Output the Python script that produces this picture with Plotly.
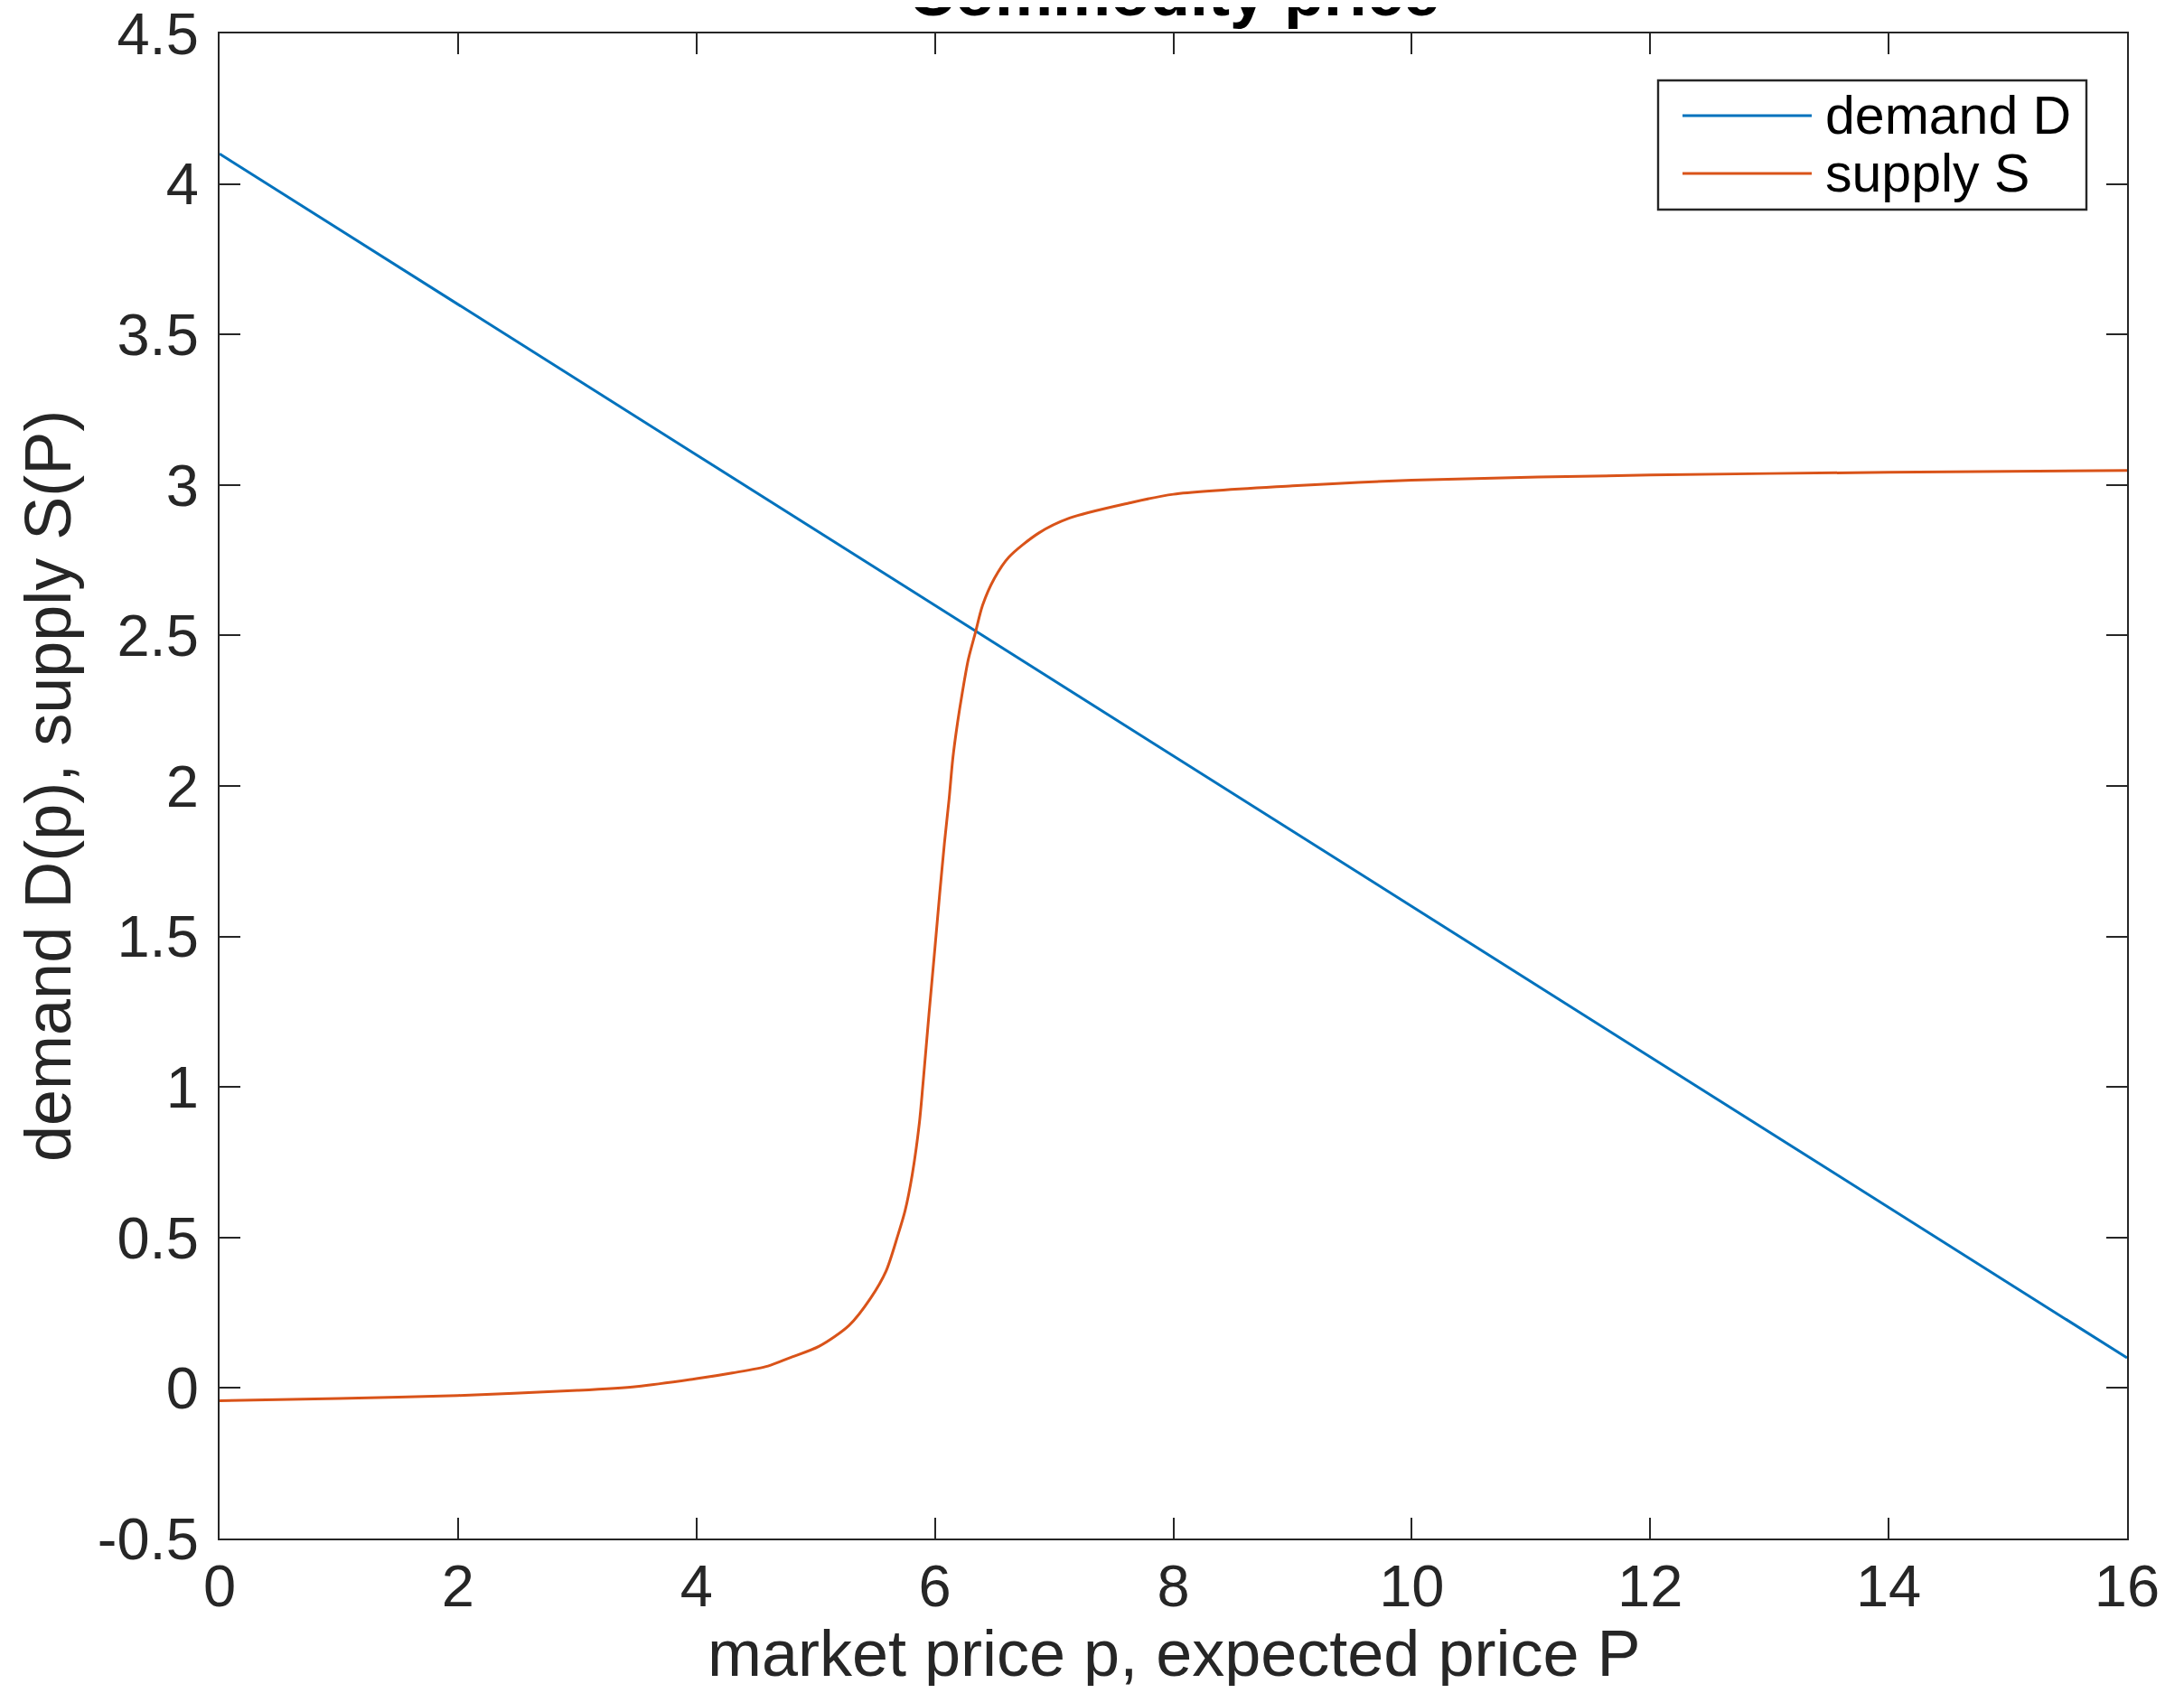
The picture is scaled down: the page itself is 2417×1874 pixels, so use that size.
import plotly.graph_objects as go

# ---------------- data ----------------
demand_p = [0, 16]
demand_D = [4.1, 0.1]

supply_P = [0, 1, 2, 3, 3.5, 4, 4.3, 4.6, 4.78, 5.03, 5.28, 5.46, 5.59, 5.69, 5.75,
            5.81, 5.87, 5.90, 5.95, 6.00, 6.04, 6.08, 6.12, 6.15, 6.19, 6.23, 6.28,
            6.34, 6.40, 6.50, 6.62, 6.87, 7.13, 7.63, 8, 9, 10, 12, 14, 16]
supply_S = [-0.042, -0.035, -0.025, -0.008, 0.005, 0.031, 0.05, 0.073, 0.10, 0.139, 0.208,
            0.298, 0.388, 0.508, 0.589, 0.709, 0.881, 1.01, 1.24, 1.46, 1.64, 1.81, 1.96,
            2.09, 2.21, 2.31, 2.42, 2.51, 2.60, 2.69, 2.76, 2.84, 2.89, 2.94, 2.969,
            2.997, 3.016, 3.033, 3.042, 3.048]

x_ticks = [0, 2, 4, 6, 8, 10, 12, 14, 16]
x_ticklabels = ["0", "2", "4", "6", "8", "10", "12", "14", "16"]
y_ticks = [-0.5, 0, 0.5, 1, 1.5, 2, 2.5, 3, 3.5, 4, 4.5]
y_ticklabels = ["-0.5", "0", "0.5", "1", "1.5", "2", "2.5", "3", "3.5", "4", "4.5"]

series_names = ["demand D", "supply S"]
series_colors = ["#0072BD", "#D95319"]

# ---------------- layout geometry (page pixels) ----------------
PAGE_OFF = 8          # default body margin of the html page
W, H = 2417 - 2 * PAGE_OFF, 1874 - 2 * PAGE_OFF
PL, PR, PT, PB = 243, 2354, 37, 1703   # plot area in page pixels

def px(xpage):
    return (xpage - PL) / (PR - PL)

def py(ypage):
    return (PB - ypage) / (PB - PT)

FONT = "Liberation Sans, Arial, Helvetica, sans-serif"
AX = "#262626"

fig = go.Figure()
fig.add_trace(go.Scatter(x=demand_p, y=demand_D, mode="lines", name=series_names[0],
                         line=dict(color=series_colors[0], width=3), showlegend=False))
fig.add_trace(go.Scatter(x=supply_P, y=supply_S, mode="lines", name=series_names[1],
                         line=dict(color=series_colors[1], width=3, shape="spline",
                                   smoothing=0.8),
                         showlegend=False))

axis_common = dict(showline=True, linecolor=AX, linewidth=2.4, mirror="ticks",
                   ticks="inside", ticklen=23, tickwidth=2.4, tickcolor=AX,
                   showgrid=False, zeroline=False, ticklabeloverflow="allow",
                   automargin=False,
                   tickfont=dict(family=FONT, size=65, color=AX))

fig.update_xaxes(range=[0, 16], tickvals=x_ticks, ticktext=x_ticklabels,
                 ticklabelstandoff=-5, **axis_common)
fig.update_yaxes(range=[-0.5, 4.5], tickvals=y_ticks, ticktext=y_ticklabels,
                 ticklabelstandoff=8, **axis_common)

annotations = [
    dict(text="<b>Commodity price</b>", x=0.5, y=py(-8), xref="paper", yref="paper",
         xanchor="center", yanchor="middle", showarrow=False,
         font=dict(family=FONT, size=72, color="#000000")),
    dict(text="market price p, expected price P", x=0.5, y=py(1830), xref="paper", yref="paper",
         xanchor="center", yanchor="middle", showarrow=False,
         font=dict(family=FONT, size=72, color=AX)),
    dict(text="demand D(p), supply S(P)", x=px(53), y=0.5, xref="paper", yref="paper",
         xanchor="center", yanchor="middle", textangle=-90, showarrow=False,
         font=dict(family=FONT, size=72, color=AX)),
]

# legend drawn as box + sample lines + labels
shapes = [dict(type="rect", xref="paper", yref="paper", x0=px(1835), x1=px(2309),
               y0=py(232), y1=py(89), line=dict(color=AX, width=2.4), fillcolor="white")]
rows = [128, 192]
for name, color, yrow in zip(series_names, series_colors, rows):
    shapes.append(dict(type="line", xref="paper", yref="paper", x0=px(1862), x1=px(2005),
                       y0=py(yrow), y1=py(yrow), line=dict(color=color, width=3)))
    annotations.append(dict(text=name, x=px(2018), y=py(yrow), xref="paper", yref="paper",
                            xanchor="left", yanchor="middle", showarrow=False,
                            font=dict(family=FONT, size=59, color="#000000")))

fig.update_layout(width=W, height=H,
                  margin=dict(l=PL - PAGE_OFF, r=W - (PR - PAGE_OFF), t=PT - PAGE_OFF,
                              b=H - (PB - PAGE_OFF), pad=0, autoexpand=False),
                  paper_bgcolor="white", plot_bgcolor="white",
                  annotations=annotations, shapes=shapes, showlegend=False)

fig.write_html("out.html")
